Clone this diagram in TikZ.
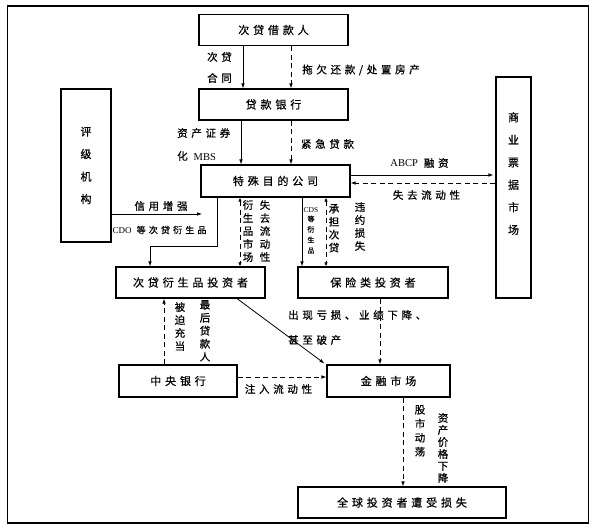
\documentclass[tikz,border=0pt]{standalone}
\usepackage{fontspec}
\setmainfont{Noto Sans CJK SC}[LetterSpace=35, FakeBold=0.7]
\newfontfamily\tightfont{Noto Sans CJK SC}[FakeBold=0.7]
\newfontfamily\latinfont{Liberation Serif}
\usetikzlibrary{arrows.meta}

\begin{document}
\begin{tikzpicture}[x=1pt, y=-1pt,
    % --- Styles ---
    flowBox/.style={
      draw,
      rectangle,
      line width=1.1pt,
      inner sep=0pt,
      minimum height=31pt,
      font=\fontsize{11}{13}\selectfont
    },
    tallBox/.style={
      draw,
      rectangle,
      line width=1.1pt,
      inner sep=0pt,
      align=center,
      font=\tightfont\fontsize{11}{22.5}\selectfont
    },
    boxVText/.style={
      inner sep=0pt,
      align=center,
      font=\tightfont\fontsize{11}{22.5}\selectfont
    },
    flowLabel/.style={
      inner sep=0pt,
      font=\fontsize{10.5}{13}\selectfont
    },
    vertLabel/.style={
      inner sep=0pt,
      anchor=north,
      align=center,
      font=\tightfont\fontsize{10.5}{13}\selectfont
    },
    solidArrow/.style={
      line width=0.8pt,
      -{Latex[length=5pt,width=3.6pt]}
    },
    dashArrow/.style={
      solidArrow,
      dash pattern=on 5pt off 3.5pt
    },
    bothEnds/.style={
      {Latex[length=4pt,width=3.4pt]}-{Latex[length=4pt,width=3.4pt]}
    }
]
\useasboundingbox (0,0) rectangle (596,530);
\draw[line width=1.2pt] (7.5,6) rectangle (588.5,523);

%=====================
% Boxes
%=====================
\node[flowBox, minimum width=149pt] (borrower) at (273.5,30) {次贷借款人};
\node[flowBox, minimum width=149pt] (bank) at (273.5,104.5) {贷款银行};
\node[flowBox, minimum width=149pt, minimum height=32pt] (spv) at (275.5,181) {特殊目的公司};
\node[tallBox, minimum width=50pt, minimum height=153pt] (rating) at (86,165.5) {评\\级\\机\\构};
\node[tallBox, minimum width=35pt, minimum height=221pt,
      label={[boxVText, yshift=14pt]center:{商\\业\\票\\据\\市\\场}}] (cpMarket) at (513.5,187.5) {};
\node[flowBox, minimum width=149pt] (derivInv) at (190.5,282.5) {次贷衍生品投资者};
\node[flowBox, minimum width=150pt] (insurInv) at (373,282.5) {保险类投资者};
\node[flowBox, minimum width=118pt, minimum height=32pt] (centralBank) at (178,381) {中央银行};
\node[flowBox, minimum width=123pt, minimum height=32pt] (finMarket) at (388.5,381) {金融市场};
\node[flowBox, minimum width=208pt] (globalLoss) at (402,502.5) {全球投资者遭受损失};

%=====================
% Columns and rows of the connectors
%=====================
\coordinate (colA) at (243,0);
\coordinate (colB) at (291,0);
\coordinate (colMBS) at (241,0);
\coordinate (colCDO) at (217,0);
\coordinate (colDeriv) at (150,0);
\coordinate (colLiq) at (240,0);
\coordinate (colCDS) at (302,0);
\coordinate (colLoss) at (326,0);
\coordinate (colIns) at (380,0);
\coordinate (colDiag) at (237,0);
\coordinate (colCB) at (164,0);
\coordinate (colStock) at (403,0);
\coordinate (rowABCP) at (0,175);
\coordinate (rowIlliq) at (0,183);
\coordinate (rowCredit) at (0,214);
\coordinate (rowCDO) at (0,246);
\coordinate (rowInject) at (0,377);
\coordinate (creditEnd) at (202,214);

%=====================
% Connectors
%=====================
\draw[solidArrow] (borrower.south -| colA) -- (bank.north -| colA);
\draw[dashArrow] (borrower.south -| colB) -- (bank.north -| colB);
\draw[solidArrow] (bank.south -| colMBS) -- (spv.north -| colMBS);
\draw[dashArrow] (bank.south -| colB) -- (spv.north -| colB);
\draw[solidArrow] (spv.east |- rowABCP) -- ([xshift=-2pt]cpMarket.west |- rowABCP);
\draw[dashArrow] (cpMarket.west |- rowIlliq) -- (spv.east |- rowIlliq);
\draw[solidArrow] (rating.east |- rowCredit) -- (creditEnd);
\draw[solidArrow] (spv.south -| colCDO) |- (rowCDO -| colDeriv) -- (derivInv.north -| colDeriv);
\draw[dashArrow, bothEnds] (spv.south -| colLiq) -- (derivInv.north -| colLiq);
\draw[solidArrow] (spv.south -| colCDS) -- (insurInv.north -| colCDS);
\draw[dashArrow, bothEnds] (spv.south -| colLoss) -- (insurInv.north -| colLoss);
\draw[dashArrow] (insurInv.south -| colIns) -- (finMarket.north -| colIns);
\draw[solidArrow] (derivInv.south -| colDiag) -- ([xshift=-2pt,yshift=1pt]finMarket.north west);
\draw[dashArrow] (centralBank.east |- rowInject) -- (finMarket.west |- rowInject);
\draw[dashArrow] (centralBank.north -| colCB) -- (derivInv.south -| colCB);
\draw[dashArrow] (finMarket.south -| colStock) -- (globalLoss.north -| colStock);

%=====================
% Labels
%=====================
\node[flowLabel, align=center] (lblContract) at (219.5,67.5) {次贷\\[8pt]合同};
\node[flowLabel] (lblDefault) at (361,70) {拖欠还款/处置房产};
\node[flowLabel, align=left, anchor=west] (lblMBS) at (177,144.5) {资产证券\\[10pt]化 {\latinfont MBS}};
\node[flowLabel] (lblEmerg) at (327.5,144) {紧急贷款};
\node[flowLabel] (lblABCP) at (419.5,163) {{\latinfont ABCP} 融资};
\node[flowLabel] (lblIlliq) at (426.5,195) {失去流动性};
\node[flowLabel] (lblCredit) at (161,206) {信用增强};
\node[flowLabel, font=\fontsize{9}{11}\selectfont] (lblCDO) at (159.5,230) {{\latinfont CDO} 等次贷衍生品};
\node[vertLabel] (lblDerivMkt) at (248,200) {衍\\生\\品\\市\\场};
\node[vertLabel] (lblLostLiq) at (265,200) {失\\去\\流\\动\\性};
\node[flowLabel, font=\latinfont\fontsize{7.5}{9}\selectfont] (lblCDS) at (311,210) {CDS};
\node[vertLabel, font=\tightfont\fontsize{7}{10.5}\selectfont] (lblCDSDeriv) at (311,215.5) {等\\衍\\生\\品};
\node[vertLabel] (lblBear) at (334,204) {承\\担\\次\\贷};
\node[vertLabel] (lblDefLoss) at (360,202) {违\\约\\损\\失};
\node[flowLabel, align=left, anchor=west] (lblLossUp) at (288,327.5) {出现亏损、业绩下降、\\[12pt]甚至破产};
\node[vertLabel] (lblForced) at (180,302) {被\\迫\\充\\当};
\node[vertLabel] (lblLender) at (205,300) {最\\后\\贷\\款\\人};
\node[flowLabel] (lblInject) at (278.5,389) {注入流动性};
\node[vertLabel, font=\tightfont\fontsize{10.5}{14}\selectfont] (lblStock) at (420,405) {股\\市\\动\\荡};
\node[vertLabel, font=\tightfont\fontsize{10.5}{12}\selectfont] (lblPrice) at (443,413) {资\\产\\价\\格\\下\\降};

\end{tikzpicture}
\end{document}
